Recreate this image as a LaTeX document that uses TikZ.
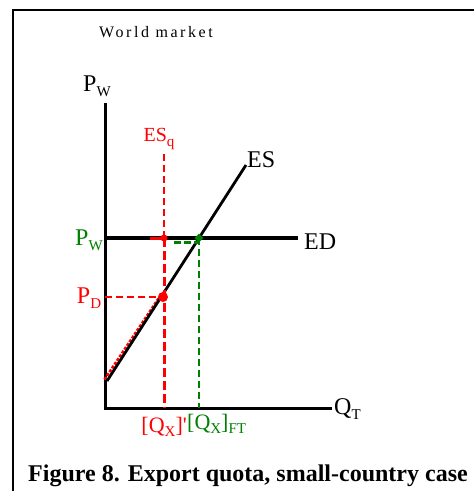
\documentclass[tikz,border=0pt]{standalone}
\usepackage{fontspec}
\setmainfont{Liberation Serif}
\usetikzlibrary{shapes.geometric}
\definecolor{dgreen}{RGB}{0,128,0}
\newcommand{\lsub}[1]{\raisebox{-0.45ex}{\fontsize{15}{15}\selectfont #1}}
\begin{document}
\begin{tikzpicture}[x=1pt,y=-1pt,
  lbl/.style={inner sep=0pt, font=\fontsize{24}{26}\selectfont},
  qlbl/.style={inner sep=0pt, font=\fontsize{22}{24}\selectfont},
  slbl/.style={inner sep=0pt, font=\fontsize{20}{22}\selectfont},
  axisline/.style={line width=3pt},
  curve/.style={line width=2.8pt},
  rthin/.style={red, line width=1.7pt, dash pattern=on 7pt off 4pt},
  rthick/.style={red, line width=3pt, dash pattern=on 9pt off 4pt},
  gthin/.style={dgreen, line width=1.6pt, dash pattern=on 7pt off 4pt},
  gthick/.style={dgreen, line width=2.4pt, dash pattern=on 7pt off 3pt},
  dot/.style={circle, fill=red, inner sep=0pt, minimum size=#1},
]
\useasboundingbox (0,0) rectangle (474,491);
% frame
\draw[line width=2.5pt] (13,491) -- (13,10) -- (474,10);
\node[inner sep=0pt, font=\fontsize{16}{18}\selectfont\addfontfeature{LetterSpace=16}] (title) at (156,32) {World market};

% axes
\coordinate (O) at (105,408);
\coordinate (Ytop) at (105,103);
\coordinate (Xend) at (332,408);
\draw[axisline] (Ytop) -- (O) -- (Xend);
\node[lbl] (pwaxis) at (97,86) {P\lsub{W}};
\node[lbl, anchor=west] (qt) at (334,409) {Q\lsub{T}};

% ES and ED
\coordinate (ES0) at (107,381);
\coordinate (ES1) at (246,165);
\coordinate (ED0) at (105,238);
\coordinate (ED1) at (298,238);
\coordinate (A) at (163,297);
\coordinate (B) at (164,238);
\coordinate (C) at (199,238);
\coordinate (PD0) at (105,297);
\coordinate (Qtop) at (164,154);
\coordinate (Qx) at (164,408);
\coordinate (Gx) at (199,408);
\coordinate (G0) at (174,242.5);
\coordinate (G1) at (198,242.5);
\coordinate (R0) at (150,238);

% red dotted along ES
\draw[red, line width=2.6pt, dash pattern=on 3pt off 1.5pt] ([shift={(-2.5,-1.5)}]ES0) -- ([shift={(-2.5,-1.5)}]A);
\draw[curve] (ES0) -- (ES1);
\draw[axisline, line width=3.4pt] (ED0) -- (ED1);
\node[lbl, anchor=south west] (es) at (247,168) {ES};
\node[lbl, anchor=west] (ed) at (304,242) {ED};

% quota line
\draw[rthin] (Qtop) -- (B);
\draw[rthick] (B) -- (Qx);
\draw[red, line width=3pt] (R0) -- (B);
\draw[rthin] (PD0) -- (A);
\node[slbl, text=red] (esq) at (159,139) {ES\lsub{q}};

% free trade
\draw[gthick] (G0) -- (G1);
\draw[gthin] (C) -- (Gx);

% points
\node[dot=10pt] (pA) at (A) {};
\node[dot=7pt] (pB) at (B) {};
\node[diamond, fill=dgreen, inner sep=0pt, minimum size=9pt] (pC) at (C) {};

% price labels
\node[lbl, text=dgreen] (pw) at (89,240) {P\lsub{W}};
\node[lbl, text=red] (pd) at (89,298) {P\lsub{D}};

% quantity labels
\node[qlbl, text=red, anchor=east] (qxq) at (187,427) {[Q\lsub{X}]\textquotesingle};
\node[qlbl, text=dgreen, anchor=west] (qxft) at (187,424) {[Q\lsub{X}]\lsub{FT}};

% caption
\node[inner sep=0pt, font=\fontsize{24}{26}\selectfont\bfseries] (cap) at (248,476) {Figure 8. Export quota, small-country case};
\end{tikzpicture}
\end{document}
